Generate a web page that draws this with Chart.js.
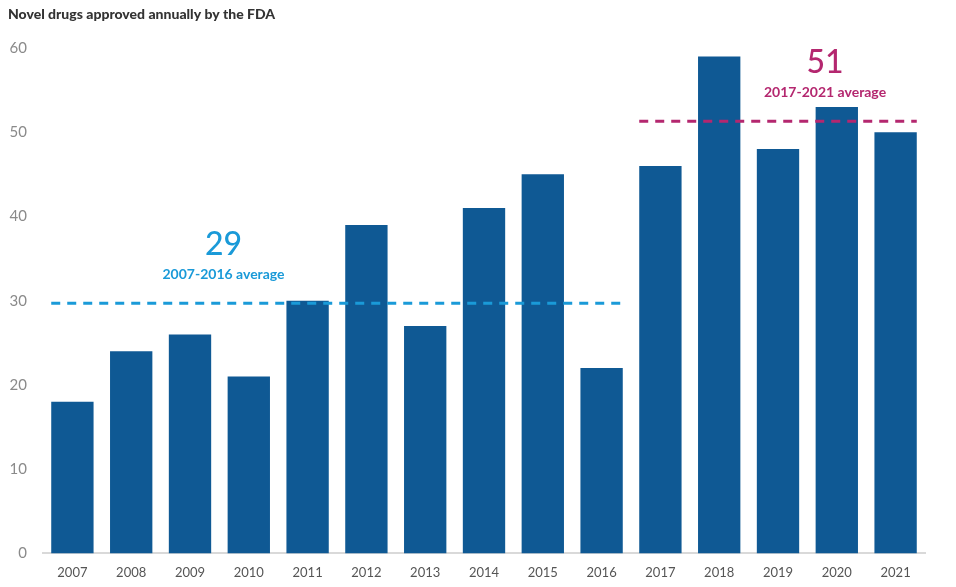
<!DOCTYPE html>
<html>
<head>
<meta charset="utf-8">
<script src="https://cdn.jsdelivr.net/npm/chart.js@4"></script>
<style>
html,body{margin:0;padding:0;background:#fff;}
#wrap{width:956px;height:587px;position:relative;}
</style>
</head>
<body>
<div id="wrap"><canvas id="c" width="956" height="587"></canvas></div>
<script>
const years = ['2007','2008','2009','2010','2011','2012','2013','2014','2015','2016','2017','2018','2019','2020','2021'];
const approvals = [18, 24, 26, 21, 30, 39, 27, 41, 45, 22, 46, 59, 48, 53, 50];
const yTicks = [0, 10, 20, 30, 40, 50, 60];
const avgLabels = ['29', '51'];
const avgSubLabels = ['2007-2016 average', '2017-2021 average'];
const avgLineLevels = [29.7, 51.3];
const avgRanges = [[0, 9], [10, 14]];
const avgLabelAt = [2.57, 12.8];
const avgColors = ['#1a9ad8', '#b4276f'];
const titleText = 'Novel drugs approved annually by the FDA';

const overlay = {
  id: 'overlay',
  afterDatasetsDraw(chart) {
    const ctx = chart.ctx;
    const x = chart.scales.x, y = chart.scales.y;
    const meta = chart.getDatasetMeta(0);
    ctx.save();
    ctx.fillStyle = '#333';
    ctx.font = '900 14px Lato, "Open Sans", sans-serif';
    ctx.textBaseline = 'middle';
    ctx.textAlign = 'left';
    ctx.fillText(titleText, 8, 14);
    for (let i = 0; i < avgLineLevels.length; i++) {
      const [a, b] = avgRanges[i];
      const ba = meta.data[a], bb = meta.data[b];
      const x0 = ba.x - ba.width / 2;
      const x1 = bb.x + bb.width / 2;
      const yy = y.getPixelForValue(avgLineLevels[i]);
      ctx.strokeStyle = avgColors[i];
      ctx.lineWidth = 3;
      ctx.setLineDash([9, 7]);
      ctx.beginPath();
      ctx.moveTo(x0, yy);
      ctx.lineTo(x1, yy);
      ctx.stroke();
    }
    ctx.setLineDash([]);
    for (let i = 0; i < avgLabels.length; i++) {
      const yy = y.getPixelForValue(avgLineLevels[i]);
      const cx = x.getPixelForValue(avgLabelAt[i]);
      ctx.fillStyle = avgColors[i];
      ctx.textAlign = 'center';
      ctx.textBaseline = 'middle';
      ctx.font = '500 32px Lato, "Open Sans", sans-serif';
      ctx.fillText(avgLabels[i], cx, yy - 59);
      ctx.font = 'bold 14px Lato, "Open Sans", sans-serif';
      ctx.fillText(avgSubLabels[i], cx, yy - 29);
    }
    ctx.restore();
  }
};

new Chart(document.getElementById('c'), {
  type: 'bar',
  data: {
    labels: years,
    datasets: [{
      data: approvals,
      backgroundColor: '#0f5994',
      categoryPercentage: 0.72,
      barPercentage: 1.0
    }]
  },
  options: {
    responsive: false,
    animation: false,
    layout: { padding: { top: 48, right: 31, left: 6, bottom: 2 } },
    plugins: { legend: { display: false }, tooltip: { enabled: false } },
    scales: {
      x: {
        grid: { display: false },
        border: { display: true, color: '#d9d9d9', width: 2 },
        ticks: { color: '#555', font: { family: 'Lato', size: 13 }, padding: 4, maxRotation: 0 }
      },
      y: {
        min: 0, max: 60,
        afterBuildTicks(scale) { scale.ticks = yTicks.map(v => ({ value: v })); },
        afterFit(scale) { scale.width = 37; },
        grid: { display: false },
        border: { display: false },
        ticks: { color: '#8a8a8a', font: { family: 'Lato', size: 15 }, padding: 8 }
      }
    }
  },
  plugins: [overlay]
});
</script>
</body>
</html>
